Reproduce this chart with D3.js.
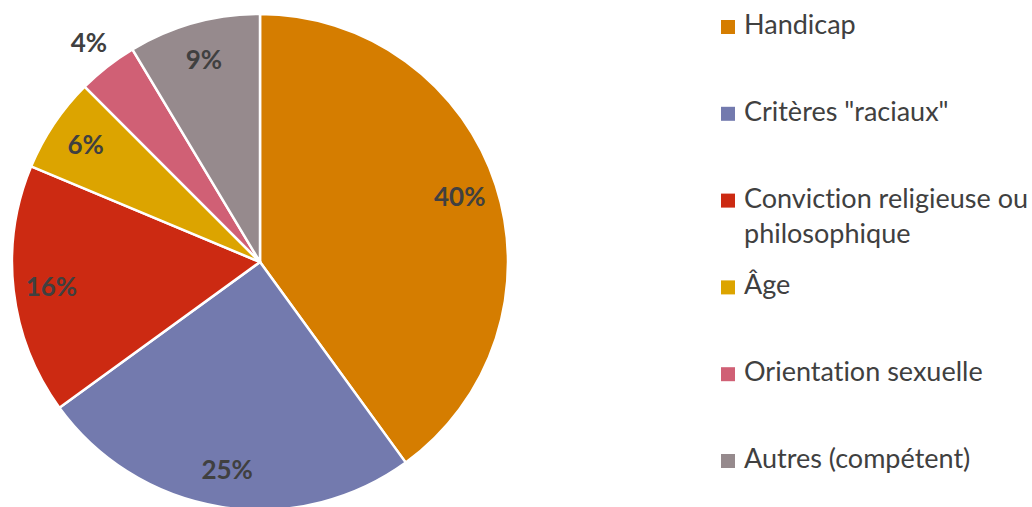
<!DOCTYPE html>
<html><head><meta charset="utf-8">
<script src="https://cdn.jsdelivr.net/npm/d3@7"></script>
<style>html,body{margin:0;padding:0;background:#fff;overflow:hidden} text{font-variant-ligatures:none;font-feature-settings:"liga" 0}</style>
</head><body>
<svg id="chart" width="1032" height="507"></svg>
<script>
const categories = ["Handicap", "Critères \"raciaux\"", "Conviction religieuse ou philosophique", "Âge", "Orientation sexuelle", "Autres (compétent)"];
const legendLines = [["Handicap"], ["Critères \"raciaux\""], ["Conviction religieuse ou", "philosophique"], ["Âge"], ["Orientation sexuelle"], ["Autres (compétent)"]];
const values = [40.0, 25.0, 16.3, 6.2, 3.9, 8.6];
const labels = ["40%", "25%", "16%", "6%", "4%", "9%"];
const colors = ["#D57D00", "#737AAE", "#CC2A12", "#DCA400", "#D06075", "#968A8D"];

const svg = d3.select("#chart");
const cx = 260, cy = 262, R = 248;
const g = svg.append("g").attr("transform", `translate(${cx},${cy})`);

const pie = d3.pie().sort(null).value(d => d);
const arcs = pie(values);
const arc = d3.arc().innerRadius(0).outerRadius(R);

g.selectAll("path.slice").data(arcs).join("path")
  .attr("class", "slice")
  .attr("d", arc)
  .attr("fill", (d, i) => colors[i])
  .attr("stroke", "#fff")
  .attr("stroke-width", 2.5)
  .attr("stroke-linejoin", "round");

const inArc = d3.arc().innerRadius(210).outerRadius(210);
const outArc = d3.arc().innerRadius(278).outerRadius(278);
g.selectAll("text.lbl").data(arcs).join("text")
  .attr("class", "lbl")
  .attr("transform", d => {
    const c = (d.endAngle - d.startAngle) < 0.3 ? outArc.centroid(d) : inArc.centroid(d);
    return `translate(${c[0]},${c[1]})`;
  })
  .attr("text-anchor", "middle")
  .attr("dy", "0.36em")
  .attr("font-family", "Lato, 'Open Sans', sans-serif")
  .attr("font-weight", "bold")
  .attr("font-size", 26)
  .attr("fill", "#404040")
  .text((d, i) => labels[i]);

// legend
const ly = d3.scaleLinear().domain([0, categories.length - 1]).range([34, 468]);
const lg = svg.append("g");
legendLines.forEach((lines, i) => {
  const y = ly(i);
  lg.append("rect").attr("x", 721).attr("y", y - 14).attr("width", 14).attr("height", 14).attr("fill", colors[i]);
  const t = lg.append("text").attr("x", 744).attr("y", y)
    .attr("font-family", "Lato, 'Open Sans', sans-serif")
    .attr("font-size", 27).attr("fill", "#404040");
  lines.forEach((l, j) => t.append("tspan").attr("x", 744).attr("y", y + j * 35).text(l));
});
</script>
</body></html>
